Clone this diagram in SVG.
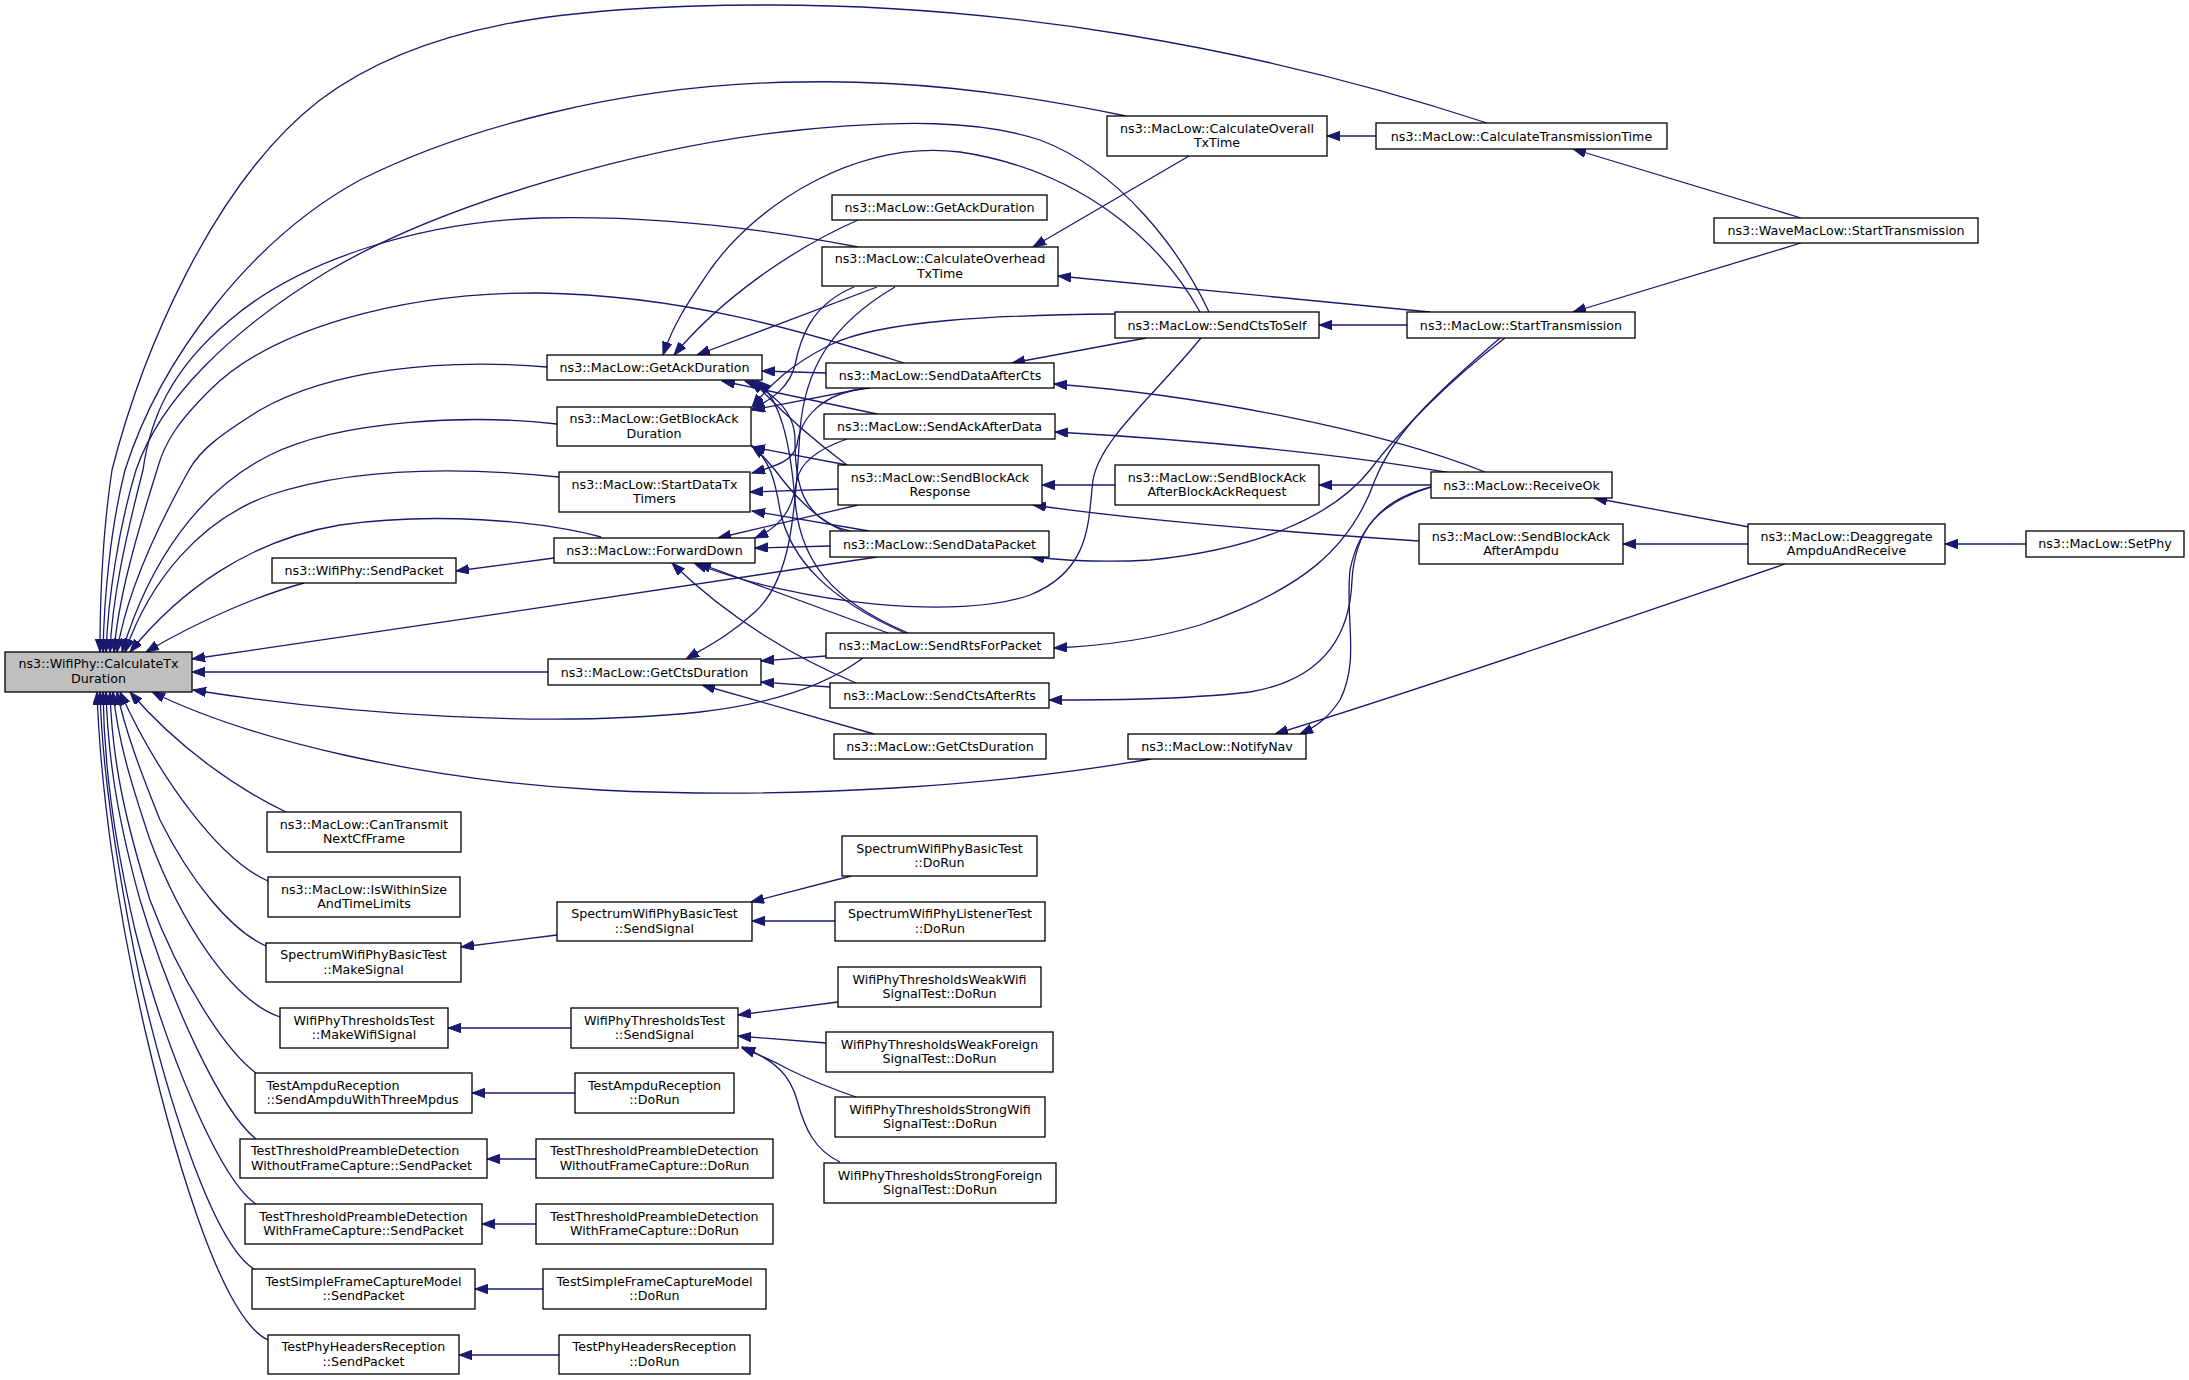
<svg xmlns="http://www.w3.org/2000/svg" width="2189" height="1380" viewBox="0 0 2189 1380">
<style>
.n rect{fill:#ffffff;stroke:#000000;stroke-width:1.3}
.n.main rect{fill:#bfbfbf}
.n text{font-family:"DejaVu Sans",sans-serif;font-size:12.67px;fill:#000;text-anchor:middle}
.n text.l{text-anchor:start}
.e path{fill:none;stroke:#191970;stroke-width:1.3;marker-end:url(#ah)}
</style>
<defs>
<marker id="ah" markerWidth="14" markerHeight="10" refX="13" refY="4.7" orient="auto" markerUnits="userSpaceOnUse">
<path d="M0,0 L13,4.7 L0,9.4 z" fill="#191970" stroke="#191970" stroke-width="1"/>
</marker>
</defs>
<rect width="2189" height="1380" fill="#ffffff"/>
<g class="e" id="edges">
<path d="M1487,123 C1250,45 1000,5 770,5 C560,5 420,25 320,100 C210,185 140,360 112,470 C103,530 100,600 100,652"/>
<path d="M1126,116 C1000,90 900,80 800,82 C620,84 460,130 360,180 C250,240 160,360 125,470 C110,530 104,600 103,652"/>
<path d="M1209,312 C1180,250 1120,170 1040,140 C980,120 900,120 800,130 C650,145 450,200 330,270 C230,330 160,400 136,470 C118,530 108,600 106,652"/>
<path d="M858,247 C760,228 650,215 540,218 C420,222 300,260 230,320 C170,370 150,420 143,470 C125,540 112,600 110,652"/>
<path d="M904,363 C800,330 680,295 540,293 C400,292 270,330 210,390 C180,420 165,440 157,470 C135,540 118,600 114,652"/>
<path d="M547,367 C440,358 330,370 260,410 C220,435 200,450 189,470 C150,540 125,600 117,652"/>
<path d="M557,424 C470,414 340,420 270,455 C200,490 150,560 122,652"/>
<path d="M559,477 C470,468 360,465 270,495 C200,520 150,580 125,652"/>
<path d="M601,537 C540,520 430,512 340,525 C250,540 180,590 130,652"/>
<path d="M304,583 C260,595 200,620 146,652"/>
<path d="M877,557 C700,585 400,628 192,659"/>
<path d="M548,672 L192,672"/>
<path d="M863,658 C820,690 760,705 700,712 C550,728 350,715 193,690"/>
<path d="M1151,759 C1000,785 800,800 600,790 C420,780 250,740 152,692"/>
<path d="M286,812 C240,790 180,750 130,692"/>
<path d="M268,881 C220,860 160,780 120,692"/>
<path d="M266,946 C230,930 190,880 160,820 C140,770 125,730 117,692"/>
<path d="M280,1017 C230,1000 180,920 150,840 C130,780 118,740 113,692"/>
<path d="M256,1073 C225,1050 180,980 150,900 C125,820 112,760 110,692"/>
<path d="M256,1139 C220,1110 170,1000 140,900 C118,820 108,760 106,692"/>
<path d="M256,1204 C220,1180 165,1050 135,930 C112,830 104,760 103,692"/>
<path d="M254,1269 C215,1245 170,1110 140,980 C115,860 102,770 100,692"/>
<path d="M268,1340 C225,1320 180,1180 145,1030 C115,900 100,780 97,692"/>
<path d="M1200,312 C1160,240 1080,170 960,152 C860,140 760,200 710,270 C690,300 675,320 663,355"/>
<path d="M858,220 C790,250 720,300 674,355"/>
<path d="M877,287 L697,355"/>
<path d="M826,373 L762,371"/>
<path d="M877,414 L722,381"/>
<path d="M847,465 C800,430 770,400 752,380"/>
<path d="M850,531 C800,520 795,480 795,440 C795,410 770,390 745,381"/>
<path d="M908,633 C830,600 800,560 795,500 C790,440 780,400 758,381"/>
<path d="M1115,314 C1000,315 880,320 830,345 C790,365 770,385 752,407"/>
<path d="M866,388 L752,410"/>
<path d="M854,287 C810,305 800,340 795,365 C790,385 775,398 752,409"/>
<path d="M847,465 L752,447"/>
<path d="M843,531 C810,515 790,490 775,470 C765,458 760,452 752,446"/>
<path d="M905,633 C830,600 790,560 780,510 C775,480 770,460 752,446"/>
<path d="M838,489 L750,492"/>
<path d="M870,388 C820,392 800,420 797,445 C793,460 780,465 752,473"/>
<path d="M869,531 L752,511"/>
<path d="M830,546 L755,548"/>
<path d="M858,505 L718,538"/>
<path d="M847,439 C815,450 800,465 797,480 C793,505 785,525 755,538"/>
<path d="M1201,338 C1150,400 1100,440 1093,480 C1088,520 1092,570 1030,595 C960,620 800,605 694,563"/>
<path d="M888,633 L698,563"/>
<path d="M856,683 C800,660 730,620 672,563"/>
<path d="M895,287 C830,325 805,370 800,430 C795,520 790,580 755,612 C730,635 710,645 686,659"/>
<path d="M826,656 L761,661"/>
<path d="M830,687 L761,682"/>
<path d="M874,734 L702,685"/>
<path d="M554,558 L456,571"/>
<path d="M1376,136 L1327,136"/>
<path d="M1801,218 L1573,149"/>
<path d="M1801,243 L1573,312"/>
<path d="M1189,156 L1033,247"/>
<path d="M1430,312 L1058,276"/>
<path d="M1407,325 L1319,325"/>
<path d="M1146,338 L1012,363"/>
<path d="M1485,472 C1380,430 1200,395 1054,384"/>
<path d="M1451,473 C1350,455 1200,440 1055,432"/>
<path d="M1115,485 L1042,485"/>
<path d="M1431,485 L1319,485"/>
<path d="M1419,541 C1300,533 1150,522 1033,505"/>
<path d="M1505,338 C1450,380 1400,430 1370,470 C1330,520 1250,550 1150,560 C1100,563 1060,560 1031,557"/>
<path d="M1500,338 C1440,390 1395,430 1375,480 C1350,550 1300,590 1200,625 C1150,640 1100,646 1054,648"/>
<path d="M1431,487 C1380,500 1355,530 1352,580 C1350,640 1320,680 1250,692 C1180,700 1100,700 1049,700"/>
<path d="M1431,487 C1390,500 1360,520 1350,570 C1345,620 1360,660 1340,700 C1330,715 1320,725 1300,734"/>
<path d="M1785,564 C1650,610 1450,680 1275,734"/>
<path d="M1749,527 L1594,498"/>
<path d="M1748,544 L1623,544"/>
<path d="M2026,544 L1945,544"/>
<path d="M557,935 L461,947"/>
<path d="M851,876 L751,902"/>
<path d="M835,921 L752,921"/>
<path d="M571,1028 L448,1028"/>
<path d="M838,1002 L738,1015"/>
<path d="M826,1043 L738,1036"/>
<path d="M856,1097 C830,1088 810,1080 790,1070 C775,1062 760,1055 742,1048"/>
<path d="M840,1162 C815,1150 805,1130 797,1100 C790,1075 775,1060 742,1047"/>
<path d="M575,1093 L472,1093"/>
<path d="M536,1159 L487,1159"/>
<path d="M536,1224 L482,1224"/>
<path d="M543,1289 L475,1289"/>
<path d="M559,1355 L459,1355"/>
</g>
<g class="n main" id="calcTxDuration"><rect x="5" y="652" width="187" height="40"/><text x="98.5" y="668">ns3::WifiPhy::CalculateTx</text><text x="98.5" y="683">Duration</text></g>
<g class="n" id="phySendPacket"><rect x="272" y="558" width="184" height="25"/><text x="364" y="575">ns3::WifiPhy::SendPacket</text></g>
<g class="n" id="getAck1"><rect x="547" y="355" width="215" height="25"/><text x="654.5" y="372">ns3::MacLow::GetAckDuration</text></g>
<g class="n" id="getBlockAck"><rect x="557" y="407" width="194" height="39"/><text x="654" y="423">ns3::MacLow::GetBlockAck</text><text x="654" y="438">Duration</text></g>
<g class="n" id="startDataTx"><rect x="559" y="472" width="191" height="40"/><text x="654.5" y="488.5">ns3::MacLow::StartDataTx</text><text x="654.5" y="503">Timers</text></g>
<g class="n" id="forwardDown"><rect x="554" y="538" width="201" height="25"/><text x="654.5" y="555">ns3::MacLow::ForwardDown</text></g>
<g class="n" id="getCts1"><rect x="548" y="659" width="213" height="26"/><text x="654.5" y="676.5">ns3::MacLow::GetCtsDuration</text></g>
<g class="n" id="canTransmit"><rect x="267" y="812" width="194" height="40"/><text x="364" y="828.5">ns3::MacLow::CanTransmit</text><text x="364" y="843">NextCfFrame</text></g>
<g class="n" id="isWithin"><rect x="268" y="877" width="192" height="40"/><text x="364" y="893.5">ns3::MacLow::IsWithinSize</text><text x="364" y="908">AndTimeLimits</text></g>
<g class="n" id="makeSignal"><rect x="266" y="943" width="195" height="39"/><text x="363.5" y="959">SpectrumWifiPhyBasicTest</text><text x="363.5" y="974">::MakeSignal</text></g>
<g class="n" id="makeWifiSignal"><rect x="280" y="1008" width="168" height="40"/><text x="364" y="1024.5">WifiPhyThresholdsTest</text><text x="364" y="1039">::MakeWifiSignal</text></g>
<g class="n" id="sendAmpdu"><rect x="255" y="1073" width="217" height="40"/><text class="l" x="266.5" y="1089.5">TestAmpduReception</text><text class="l" x="266.5" y="1104">::SendAmpduWithThreeMpdus</text></g>
<g class="n" id="tpdWithout"><rect x="240" y="1139" width="247" height="39"/><text class="l" x="251" y="1155">TestThresholdPreambleDetection</text><text class="l" x="251" y="1170">WithoutFrameCapture::SendPacket</text></g>
<g class="n" id="tpdWith"><rect x="245" y="1204" width="237" height="40"/><text x="363.5" y="1220.5">TestThresholdPreambleDetection</text><text x="363.5" y="1235">WithFrameCapture::SendPacket</text></g>
<g class="n" id="tsfcm"><rect x="252" y="1269" width="223" height="40"/><text x="363.5" y="1285.5">TestSimpleFrameCaptureModel</text><text x="363.5" y="1300">::SendPacket</text></g>
<g class="n" id="tphr"><rect x="268" y="1335" width="191" height="39"/><text x="363.5" y="1351">TestPhyHeadersReception</text><text x="363.5" y="1366">::SendPacket</text></g>
<g class="n" id="getAck2"><rect x="832" y="195" width="215" height="25"/><text x="939.5" y="212">ns3::MacLow::GetAckDuration</text></g>
<g class="n" id="calcOverhead"><rect x="822" y="247" width="236" height="39"/><text x="940" y="263">ns3::MacLow::CalculateOverhead</text><text x="940" y="278">TxTime</text></g>
<g class="n" id="sendDataAfterCts"><rect x="826" y="363" width="228" height="25"/><text x="940" y="380">ns3::MacLow::SendDataAfterCts</text></g>
<g class="n" id="sendAckAfterData"><rect x="824" y="414" width="231" height="25"/><text x="939.5" y="431">ns3::MacLow::SendAckAfterData</text></g>
<g class="n" id="sendBAResp"><rect x="838" y="465" width="204" height="40"/><text x="940" y="481.5">ns3::MacLow::SendBlockAck</text><text x="940" y="496">Response</text></g>
<g class="n" id="sendDataPacket"><rect x="830" y="531" width="219" height="26"/><text x="939.5" y="548.5">ns3::MacLow::SendDataPacket</text></g>
<g class="n" id="sendRts"><rect x="826" y="633" width="228" height="25"/><text x="940" y="650">ns3::MacLow::SendRtsForPacket</text></g>
<g class="n" id="sendCtsAfterRts"><rect x="830" y="683" width="219" height="25"/><text x="939.5" y="700">ns3::MacLow::SendCtsAfterRts</text></g>
<g class="n" id="getCts2"><rect x="834" y="734" width="212" height="25"/><text x="940" y="751">ns3::MacLow::GetCtsDuration</text></g>
<g class="n" id="sDoRun"><rect x="842" y="836" width="195" height="40"/><text x="939.5" y="852.5">SpectrumWifiPhyBasicTest</text><text x="939.5" y="867">::DoRun</text></g>
<g class="n" id="sSendSignal"><rect x="557" y="902" width="195" height="39"/><text x="654.5" y="918">SpectrumWifiPhyBasicTest</text><text x="654.5" y="933">::SendSignal</text></g>
<g class="n" id="listenerDoRun"><rect x="835" y="902" width="210" height="39"/><text x="940" y="918">SpectrumWifiPhyListenerTest</text><text x="940" y="933">::DoRun</text></g>
<g class="n" id="weakWifi"><rect x="838" y="967" width="203" height="40"/><text x="939.5" y="983.5">WifiPhyThresholdsWeakWifi</text><text x="939.5" y="998">SignalTest::DoRun</text></g>
<g class="n" id="wSendSignal"><rect x="571" y="1008" width="167" height="40"/><text x="654.5" y="1024.5">WifiPhyThresholdsTest</text><text x="654.5" y="1039">::SendSignal</text></g>
<g class="n" id="weakForeign"><rect x="826" y="1032" width="227" height="40"/><text x="939.5" y="1048.5">WifiPhyThresholdsWeakForeign</text><text x="939.5" y="1063">SignalTest::DoRun</text></g>
<g class="n" id="ampduDoRun"><rect x="575" y="1073" width="159" height="40"/><text x="654.5" y="1089.5">TestAmpduReception</text><text x="654.5" y="1104">::DoRun</text></g>
<g class="n" id="strongWifi"><rect x="835" y="1097" width="210" height="40"/><text x="940" y="1113.5">WifiPhyThresholdsStrongWifi</text><text x="940" y="1128">SignalTest::DoRun</text></g>
<g class="n" id="tpdWithoutDoRun"><rect x="536" y="1139" width="237" height="39"/><text x="654.5" y="1155">TestThresholdPreambleDetection</text><text x="654.5" y="1170">WithoutFrameCapture::DoRun</text></g>
<g class="n" id="strongForeign"><rect x="824" y="1163" width="232" height="40"/><text x="940" y="1179.5">WifiPhyThresholdsStrongForeign</text><text x="940" y="1194">SignalTest::DoRun</text></g>
<g class="n" id="tpdWithDoRun"><rect x="536" y="1204" width="237" height="40"/><text x="654.5" y="1220.5">TestThresholdPreambleDetection</text><text x="654.5" y="1235">WithFrameCapture::DoRun</text></g>
<g class="n" id="tsfcmDoRun"><rect x="543" y="1269" width="223" height="40"/><text x="654.5" y="1285.5">TestSimpleFrameCaptureModel</text><text x="654.5" y="1300">::DoRun</text></g>
<g class="n" id="tphrDoRun"><rect x="559" y="1335" width="191" height="39"/><text x="654.5" y="1351">TestPhyHeadersReception</text><text x="654.5" y="1366">::DoRun</text></g>
<g class="n" id="calcOverall"><rect x="1107" y="116" width="220" height="40"/><text x="1217" y="132.5">ns3::MacLow::CalculateOverall</text><text x="1217" y="147">TxTime</text></g>
<g class="n" id="sendCtsToSelf"><rect x="1115" y="312" width="204" height="26"/><text x="1217" y="329.5">ns3::MacLow::SendCtsToSelf</text></g>
<g class="n" id="sendBAAfterBAR"><rect x="1115" y="465" width="204" height="40"/><text x="1217" y="481.5">ns3::MacLow::SendBlockAck</text><text x="1217" y="496">AfterBlockAckRequest</text></g>
<g class="n" id="notifyNav"><rect x="1128" y="734" width="178" height="25"/><text x="1217" y="751">ns3::MacLow::NotifyNav</text></g>
<g class="n" id="calcTransTime"><rect x="1376" y="123" width="291" height="26"/><text x="1521.5" y="140.5">ns3::MacLow::CalculateTransmissionTime</text></g>
<g class="n" id="startTx"><rect x="1407" y="312" width="228" height="26"/><text x="1521" y="329.5">ns3::MacLow::StartTransmission</text></g>
<g class="n" id="receiveOk"><rect x="1431" y="472" width="181" height="26"/><text x="1521.5" y="489.5">ns3::MacLow::ReceiveOk</text></g>
<g class="n" id="sendBAAfterAmpdu"><rect x="1419" y="524" width="204" height="40"/><text x="1521" y="540.5">ns3::MacLow::SendBlockAck</text><text x="1521" y="555">AfterAmpdu</text></g>
<g class="n" id="waveStartTx"><rect x="1714" y="218" width="264" height="25"/><text x="1846" y="235">ns3::WaveMacLow::StartTransmission</text></g>
<g class="n" id="deaggregate"><rect x="1748" y="524" width="197" height="40"/><text x="1846.5" y="540.5">ns3::MacLow::Deaggregate</text><text x="1846.5" y="555">AmpduAndReceive</text></g>
<g class="n" id="setPhy"><rect x="2026" y="531" width="158" height="26"/><text x="2105" y="548">ns3::MacLow::SetPhy</text></g>
</svg>
